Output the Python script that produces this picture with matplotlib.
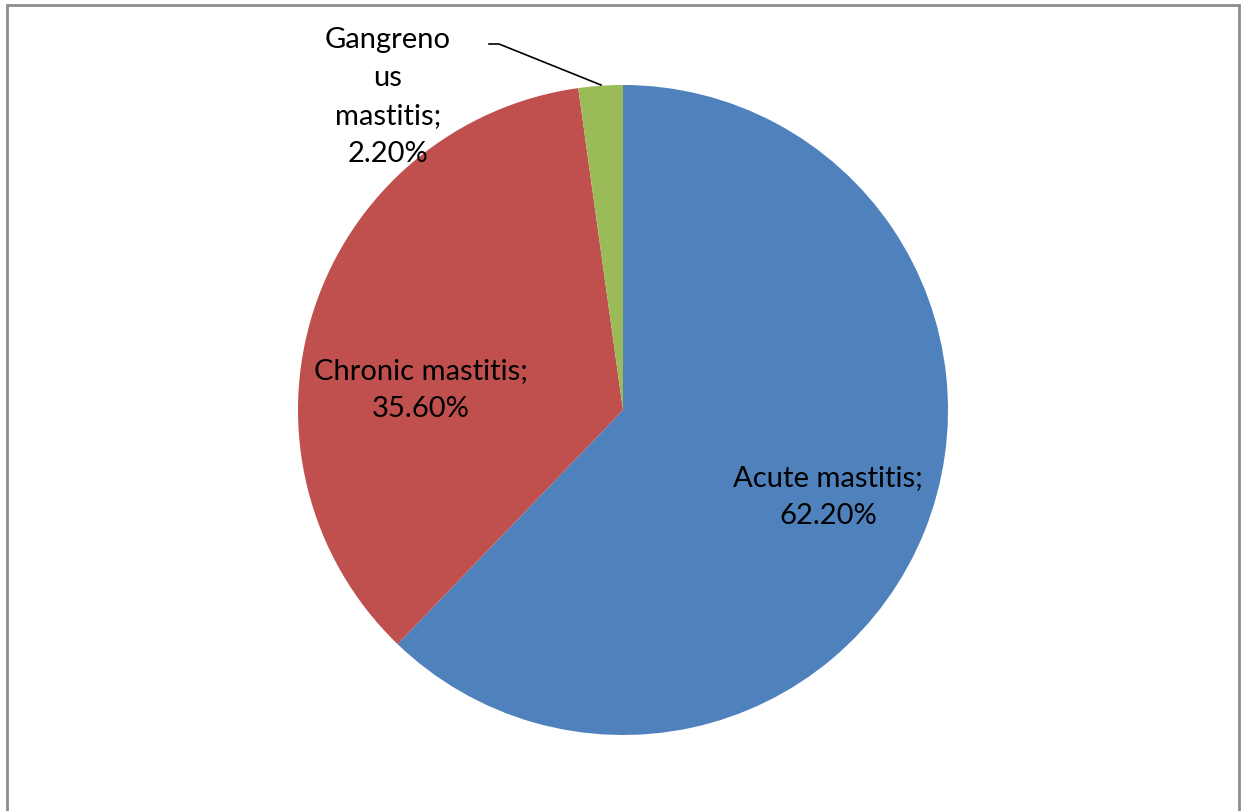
import matplotlib
import matplotlib.pyplot as plt
from matplotlib.patches import Rectangle

matplotlib.use("Agg")

categories = ["Acute mastitis", "Chronic mastitis", "Gangrenous mastitis"]
values = [62.2, 35.6, 2.2]
label_texts = ["Acute mastitis;\n62.20%", "Chronic mastitis;\n35.60%", "Gangreno\nus\nmastitis;\n2.20%"]
colors = ["#4F81BD", "#C0504D", "#9BBB59"]

W, H = 1241, 812

fig = plt.figure(figsize=(W / 100, H / 100), dpi=100)
ax = fig.add_axes([0, 0, 1, 1])

# pie centre / radius in pixel units (y from bottom)
cx, cy, r = 623, H - 411, 325

ax.pie(
    values,
    colors=colors,
    startangle=90,
    counterclock=False,
    center=(cx, cy),
    radius=r,
    wedgeprops={"linewidth": 0},
    frame=True,
)
ax.set_xlim(0, W)
ax.set_ylim(0, H)
ax.set_aspect("equal")
ax.axis("off")

font = "Lato"
fs = 21
ls = 1.58

ax.text(828, H - 497, label_texts[0], ha="center", va="center",
        fontsize=fs, family=font, linespacing=ls)
ax.text(421, H - 390, label_texts[1], ha="center", va="center",
        fontsize=fs, family=font, linespacing=ls)
ax.text(388, H - 97, label_texts[2], ha="center", va="center",
        fontsize=fs, family=font, linespacing=ls)

# leader line for the small slice
ax.plot([489, 499, 601], [H - 45, H - 45, H - 86], color="black", lw=1.2)

# outer border of the chart area
border = Rectangle((7, -10), 1232, H - 6 + 10, fill=False,
                   edgecolor="#8c8c8c", lw=2, transform=ax.transData, clip_on=False)
ax.add_patch(border)

fig.savefig("out.png", dpi=100, facecolor="white")
